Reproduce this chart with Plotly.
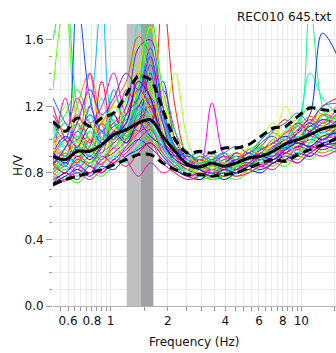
import plotly.graph_objects as go

# ---------------- data ----------------
FREQ = [0.50, 0.58, 0.67, 0.78, 0.90, 1.04, 1.21, 1.40, 1.62, 1.88, 2.18, 2.53,
        2.93, 3.40, 3.94, 4.57, 5.30, 6.15, 7.13, 8.27, 9.59, 11.1, 12.9, 15.5]

HV_MEAN = [0.90, 0.88, 0.93, 0.93, 0.97, 1.03, 1.06, 1.10, 1.12, 1.02, 0.93, 0.85,
           0.835, 0.86, 0.84, 0.86, 0.89, 0.90, 0.93, 0.975, 1.00, 1.03, 1.065, 1.085]
HV_UPPER = [1.11, 1.05, 1.13, 1.08, 1.13, 1.16, 1.27, 1.38, 1.36, 1.18, 1.00, 0.92,
            0.93, 0.92, 0.95, 0.95, 0.97, 1.02, 1.07, 1.08, 1.14, 1.19, 1.18, 1.17]
HV_LOWER = [0.73, 0.76, 0.78, 0.80, 0.82, 0.85, 0.88, 0.91, 0.91, 0.86, 0.82, 0.79,
            0.79, 0.78, 0.79, 0.80, 0.83, 0.86, 0.88, 0.87, 0.91, 0.94, 0.97, 1.01]

F0_LOW = 1.217
F0 = 1.441
F0_HIGH = 1.678

w01 = [0.85,0.95,1.10,0.92,1.05,0.98,1.15,1.30,1.20,1.00,0.90,0.82,0.88,0.80,0.84,0.90,0.85,0.95,0.90,1.00,0.95,1.05,1.00,1.10]
w02 = [0.90,1.00,0.88,1.05,0.95,1.10,1.00,1.25,1.10,1.85,1.20,0.90,0.85,0.88,0.82,0.86,0.92,0.88,0.96,0.92,1.02,0.98,1.08,1.04]
w03 = [1.00,0.90,1.20,1.40,1.10,0.95,1.05,1.15,1.25,1.05,0.92,0.86,0.80,0.85,0.90,0.84,0.88,0.92,1.00,0.95,1.05,1.10,1.00,1.06]
w04 = [0.80,0.85,0.90,0.84,1.00,0.92,1.10,1.20,1.35,1.00,0.95,0.84,0.90,0.86,0.80,0.85,0.90,0.96,0.92,1.02,0.98,1.12,1.05,1.10]
w05 = [0.75,0.82,0.78,0.88,0.84,0.95,1.02,1.10,1.05,1.25,0.98,0.88,0.82,0.86,0.84,0.90,0.95,0.90,0.98,1.05,1.00,1.08,1.15,1.05]
w06 = [0.95,1.20,1.00,0.90,1.10,1.00,1.20,1.45,1.30,1.10,1.40,1.00,0.85,0.90,0.82,0.86,0.92,1.00,1.10,0.95,1.00,1.06,1.02,1.08]
w07 = [1.30,1.85,1.10,0.95,0.88,1.02,0.95,1.10,1.20,1.00,0.86,0.82,0.78,0.80,0.76,0.80,0.85,0.88,0.92,0.98,0.94,1.00,0.96,1.02]
w08 = [0.72,0.78,0.74,0.80,0.78,0.85,0.90,0.96,1.02,0.90,0.84,0.78,0.80,0.76,0.78,0.82,0.80,0.86,0.90,0.88,0.96,0.92,0.98,0.95]
w09 = [1.60,1.90,1.20,1.00,0.90,0.95,1.05,1.30,1.50,1.10,0.90,0.85,0.80,0.84,0.80,0.83,0.88,0.92,0.88,0.95,0.92,1.10,1.00,0.96]
w10 = [0.82,0.88,0.95,0.90,0.85,1.00,1.10,1.30,1.65,1.15,0.92,0.86,0.83,0.80,0.85,0.82,0.86,0.90,0.96,1.00,1.05,1.80,1.20,1.00]
w11 = [0.90,0.85,1.00,1.15,0.95,1.08,1.00,1.15,1.35,1.05,0.90,0.80,0.86,0.82,0.84,0.80,0.84,0.88,0.94,1.02,1.10,1.40,1.25,1.15]
w12 = [1.05,0.95,1.10,1.00,1.25,1.00,1.20,1.35,1.20,0.95,0.88,0.84,0.82,0.86,0.90,0.85,0.90,0.94,0.90,0.98,1.02,0.98,1.05,1.10]
w13 = [0.88,1.00,1.05,1.20,1.85,1.10,1.05,1.25,1.40,1.10,0.95,0.90,0.86,0.90,0.84,0.92,0.88,0.92,1.00,0.96,1.06,1.00,1.10,1.05]
w14 = [0.78,0.84,0.80,0.86,0.92,0.98,1.06,1.20,1.15,0.98,0.86,0.80,0.84,0.80,0.78,0.82,0.86,0.84,0.90,0.94,0.98,0.96,1.00,0.98]
w15 = [1.10,1.00,1.85,1.25,1.05,1.15,1.02,1.20,1.30,1.05,0.95,0.92,0.88,0.92,0.86,0.90,0.84,0.90,0.95,1.00,1.10,1.05,1.12,1.08]
w16 = [0.85,0.80,0.90,0.86,0.95,1.05,1.00,1.15,1.10,1.35,1.00,0.88,0.84,0.88,0.92,0.86,0.90,0.98,1.02,0.95,1.05,1.15,1.64,1.50]
w17 = [0.76,0.80,0.85,0.80,0.88,0.92,1.00,1.10,1.40,1.00,0.86,0.80,0.78,0.82,0.80,0.84,0.82,0.88,0.86,0.92,0.96,1.00,0.98,1.02]
w18 = [0.92,0.88,1.00,0.94,1.05,1.10,1.20,1.55,1.60,1.20,0.95,0.88,0.84,0.86,0.90,0.86,0.92,0.88,0.94,0.98,1.04,1.08,1.12,1.10]
w19 = [1.00,1.10,0.95,1.20,1.00,1.05,1.15,1.05,1.25,1.10,0.90,0.84,0.90,0.86,0.82,0.88,0.84,0.90,0.86,0.96,1.00,1.05,1.10,1.18]
w20 = [0.86,1.25,0.92,1.40,1.00,1.30,1.05,1.20,1.10,0.95,0.86,0.90,0.84,1.22,0.90,0.84,0.88,0.85,0.90,0.92,0.96,1.02,1.00,1.06]
w21 = [0.80,0.86,0.82,0.90,0.85,0.95,0.88,0.78,0.86,0.80,0.84,0.90,0.86,0.82,0.88,0.84,0.90,0.86,0.92,0.90,0.94,0.90,0.96,1.00]
w22 = [0.95,0.90,1.05,0.98,1.10,1.00,1.30,1.20,1.45,1.05,0.92,0.86,0.88,0.84,0.86,0.82,0.86,0.92,0.88,0.96,1.00,0.95,1.00,1.04]
w23 = [0.84,0.92,0.86,1.00,0.92,1.15,0.98,1.10,1.20,0.98,0.88,0.82,0.80,0.84,0.82,0.86,0.88,0.94,0.98,1.04,1.10,1.05,1.15,1.12]
w24 = [1.20,1.00,0.90,0.96,1.35,1.05,1.10,1.40,1.25,1.00,0.90,0.86,0.82,0.80,0.84,0.88,0.92,0.96,1.05,1.12,1.00,1.10,1.20,1.25]
w25 = [0.78,0.75,0.82,0.80,0.86,0.90,0.96,1.05,1.00,0.92,0.84,0.80,0.76,0.78,0.80,0.78,0.82,0.86,0.84,0.90,0.88,0.94,0.92,0.96]
w26 = [1.00,0.92,0.98,1.10,1.00,1.20,1.10,1.30,1.15,1.00,0.88,0.84,0.86,0.82,0.86,0.90,0.86,0.90,1.00,1.20,1.05,1.00,1.08,1.12]
w27 = [0.86,0.82,0.88,0.84,0.92,0.88,1.00,1.15,1.05,0.92,0.84,0.80,0.78,0.76,0.78,0.76,0.80,0.82,0.86,0.84,0.90,0.88,0.94,0.92]
w28 = [1.00,1.10,1.02,0.96,1.05,1.15,1.25,1.70,1.45,1.10,0.92,0.86,0.84,0.88,0.84,0.86,0.90,0.95,0.92,1.00,1.08,1.02,1.10,1.15]
w29 = [0.90,0.84,0.96,0.90,1.00,1.08,1.12,1.25,1.55,1.20,0.96,0.88,0.86,0.82,0.86,0.90,0.88,0.92,0.98,0.94,1.00,1.08,1.04,1.10]
w30 = [0.74,0.80,0.76,0.84,0.80,0.88,0.94,1.00,0.95,0.88,0.82,0.78,0.80,0.78,0.82,0.80,0.84,0.82,0.86,0.90,0.86,0.92,0.96,0.94]
w31 = [0.82,0.90,0.86,0.94,0.88,0.98,1.04,1.12,1.08,0.94,0.86,0.82,0.84,0.80,0.82,0.86,0.84,0.90,0.94,0.98,0.94,1.02,1.06,1.04]
w32 = [0.96,0.88,0.94,1.02,0.96,1.06,1.14,1.22,1.30,1.06,0.90,0.84,0.80,0.82,0.86,0.84,0.88,0.86,0.92,1.00,1.04,0.98,1.02,1.08]
w33 = [0.78,0.86,0.92,0.86,0.96,0.90,1.02,1.08,1.16,1.00,0.88,0.80,0.82,0.86,0.80,0.84,0.80,0.86,0.90,0.86,0.92,0.98,1.02,1.00]
w34 = [1.08,0.96,1.02,0.94,1.00,1.12,1.02,1.18,1.10,0.98,0.92,0.86,0.90,0.84,0.88,0.84,0.90,0.96,0.92,1.06,1.12,1.06,1.14,1.20]
w35 = [0.88,0.94,0.84,0.92,1.04,0.96,1.08,1.16,1.24,1.12,0.94,0.88,0.84,0.88,0.82,0.86,0.90,0.92,0.98,0.94,1.00,1.04,1.00,1.06]
w36 = [0.74,0.78,0.82,0.78,0.84,0.82,0.90,0.94,0.98,0.90,0.82,0.78,0.76,0.80,0.76,0.80,0.82,0.80,0.86,0.88,0.92,0.90,0.96,0.98]
w37 = [0.92,1.02,0.96,1.08,0.98,1.04,0.98,1.10,1.02,0.96,0.90,0.92,0.86,0.90,0.86,0.92,0.88,0.94,0.98,1.02,0.98,1.04,1.00,1.08]
w38 = [0.80,0.76,0.84,0.80,0.90,0.86,0.96,1.04,1.10,1.30,1.05,0.86,0.82,0.80,0.84,0.82,0.86,0.90,0.88,0.92,0.96,0.94,1.00,1.02]
w39 = [1.15,1.05,1.25,1.10,1.20,1.40,1.15,1.30,1.20,1.00,0.90,0.84,0.88,0.86,0.90,0.88,0.94,0.90,0.96,1.00,1.06,1.12,1.08,1.15]
w40 = [0.86,0.80,0.88,0.84,0.80,0.88,0.84,0.92,0.98,0.86,0.80,0.76,0.78,0.82,0.78,0.82,0.86,0.84,0.88,0.92,0.90,0.96,0.94,0.98]
w41 = [0.98,1.05,1.15,1.00,1.10,1.22,1.35,1.62,1.50,1.15,0.95,0.86,0.88,0.84,0.88,0.92,0.88,0.94,0.98,1.04,1.08,1.14,1.10,1.16]
w42 = [0.90,1.10,0.96,1.30,1.10,1.20,1.10,1.40,1.68,1.25,1.00,0.90,0.86,0.90,0.86,0.90,0.94,0.92,1.00,1.10,1.04,1.10,1.16,1.12]
w43 = [0.84,0.88,1.00,0.92,1.15,1.02,1.25,1.58,1.35,1.05,0.90,0.84,0.80,0.84,0.80,0.84,0.86,0.90,0.94,0.90,0.98,1.02,1.08,1.06]
w44 = [1.05,1.15,1.30,1.10,1.00,1.10,1.00,1.30,1.75,1.30,1.05,0.92,0.86,0.88,0.92,0.88,0.94,0.98,1.04,1.00,1.10,1.20,1.15,1.12]
w45 = [0.80,0.90,0.84,1.05,0.95,1.30,1.10,1.22,1.10,0.94,0.86,0.82,0.86,0.82,0.80,0.84,0.88,0.86,0.92,0.96,1.02,1.00,1.06,1.10]
w46 = [0.76,0.82,0.78,0.86,0.82,0.90,0.86,0.96,1.05,0.96,0.86,0.80,0.78,0.80,0.84,0.80,0.84,0.88,0.92,0.96,0.92,0.98,1.04,1.02]
w47 = [1.25,1.10,1.00,1.15,1.05,1.00,1.15,1.25,1.45,1.15,0.96,0.90,0.92,0.88,0.92,0.96,0.92,1.00,1.06,1.10,1.16,1.10,1.20,1.22]
w48 = [0.92,0.86,0.94,0.88,0.96,1.02,1.10,1.35,1.25,1.00,0.88,0.84,0.82,0.78,0.82,0.80,0.84,0.90,0.88,0.94,0.98,0.96,1.02,1.04]
w49 = [0.86,0.95,1.10,1.30,1.15,1.25,1.40,1.30,1.50,1.10,0.90,0.86,0.84,0.86,0.84,0.88,0.86,0.92,0.90,0.98,1.04,1.10,1.06,1.12]
w50 = [0.72,0.76,0.80,0.76,0.82,0.86,0.92,1.00,1.06,0.92,0.84,0.78,0.80,0.78,0.80,0.78,0.80,0.84,0.82,0.88,0.86,0.92,0.90,0.94]

WINDOWS = [w01, w02, w03, w04, w05, w06, w07, w08, w09, w10,
           w11, w12, w13, w14, w15, w16, w17, w18, w19, w20,
           w21, w22, w23, w24, w25, w26, w27, w28, w29, w30,
           w31, w32, w33, w34, w35, w36, w37, w38, w39, w40,
           w41, w42, w43, w44, w45, w46, w47, w48, w49, w50]

X_TICKS = [0.6, 0.8, 1, 2, 4, 6, 8, 10]
X_TICK_LABELS = ["0.6", "0.8", "1", "2", "4", "6", "8", "10"]
X_MINOR = [0.55, 0.65, 0.7, 0.75, 0.85, 0.9, 0.95, 1.5, 2.5, 3, 3.5, 4.5, 5, 5.5,
           6.5, 7, 7.5, 8.5, 9, 9.5, 15]
Y_TICKS = [0.0, 0.4, 0.8, 1.2, 1.6]
Y_TICK_LABELS = ["0.0", "0.4", "0.8", "1.2", "1.6"]
Y_MINOR = [0.1, 0.2, 0.3, 0.5, 0.6, 0.7, 0.9, 1.0, 1.1, 1.3, 1.4, 1.5]

TITLE = "REC010 645.txt"

# ---------------- styles ----------------
HUES = [0, 8, 30, 45, 58, 80, 100, 120, 132, 150,
        165, 180, 195, 205, 220, 228, 260, 275, 285, 300,
        310, 325, 340, 352, 25, 70, 110, 170, 215, 265,
        15, 55, 90, 140, 190, 235, 250, 290, 315, 345,
        20, 50, 85, 125, 155, 185, 210, 245, 280, 320]

FONT = "DejaVu Sans"
fig = go.Figure()

# f0 bands
fig.add_trace(go.Scatter(x=[F0_LOW, F0_LOW, F0, F0, F0_LOW], y=[0, 2, 2, 0, 0],
                         fill="toself", fillcolor="#c0c0c0", mode="lines",
                         line=dict(width=0), hoverinfo="skip", showlegend=False))
fig.add_trace(go.Scatter(x=[F0, F0, F0_HIGH, F0_HIGH, F0], y=[0, 2, 2, 0, 0],
                         fill="toself", fillcolor="#a2a2a6", mode="lines",
                         line=dict(width=0), hoverinfo="skip", showlegend=False))

for w, h in zip(WINDOWS, HUES):
    fig.add_trace(go.Scatter(x=FREQ, y=w, mode="lines",
                             line=dict(color=f"hsl({h},100%,50%)", width=1,
                                       shape="spline", smoothing=1.0),
                             showlegend=False, hoverinfo="skip"))

fig.add_trace(go.Scatter(x=FREQ, y=HV_UPPER, mode="lines",
                         line=dict(color="black", width=3, dash="9px,5px",
                                   shape="spline", smoothing=0.8), showlegend=False))
fig.add_trace(go.Scatter(x=FREQ, y=HV_LOWER, mode="lines",
                         line=dict(color="black", width=3, dash="9px,5px",
                                   shape="spline", smoothing=0.8), showlegend=False))
fig.add_trace(go.Scatter(x=FREQ, y=HV_MEAN, mode="lines",
                         line=dict(color="black", width=3,
                                   shape="spline", smoothing=0.8), showlegend=False))

fig.update_layout(
    width=336, height=353,
    margin=dict(l=53, r=0, t=24, b=47),
    paper_bgcolor="white", plot_bgcolor="white",
    font=dict(family=FONT, size=12, color="#111"),
    showlegend=False,
    xaxis=dict(type="log", range=[-0.30103, 1.1818],
               tickvals=X_TICKS, ticktext=X_TICK_LABELS,
               ticks="outside", ticklen=4, tickcolor="#999", tickwidth=1,
               showgrid=True, gridcolor="#e8e8e8", gridwidth=1,
               minor=dict(tickvals=X_MINOR, ticks="outside", ticklen=4,
                          tickcolor="#999", showgrid=True, gridcolor="#ececec"),
               showline=True, linecolor="#b0b0b0", linewidth=1,
               zeroline=False, tickfont=dict(family=FONT, size=12, color="#111")),
    yaxis=dict(range=[0, 1.695],
               tickvals=Y_TICKS, ticktext=Y_TICK_LABELS,
               ticks="outside", ticklen=6, tickcolor="#999", tickwidth=1,
               showgrid=True, gridcolor="#e8e8e8", gridwidth=1,
               minor=dict(tickvals=Y_MINOR, ticks="outside", ticklen=3,
                          tickcolor="#999", showgrid=True, gridcolor="#ececec"),
               showline=False, zeroline=False,
               tickfont=dict(family=FONT, size=12, color="#111")),
    annotations=[
        dict(text=TITLE, xref="paper", yref="paper", x=1, y=1.0248,
             xanchor="right", yanchor="middle", xshift=-2, showarrow=False,
             font=dict(family=FONT, size=12, color="#111")),
        dict(text="Frequency (Hz)", xref="paper", yref="paper", x=0.5, y=-0.1277,
             xanchor="center", yanchor="middle", showarrow=False,
             font=dict(family=FONT, size=12, color="#111")),
        dict(text="H/V", xref="paper", yref="paper", x=-0.1237, y=0.5,
             xanchor="center", yanchor="middle", textangle=-90, showarrow=False,
             font=dict(family=FONT, size=12, color="#111")),
    ],
)

fig.write_html("out.html")
